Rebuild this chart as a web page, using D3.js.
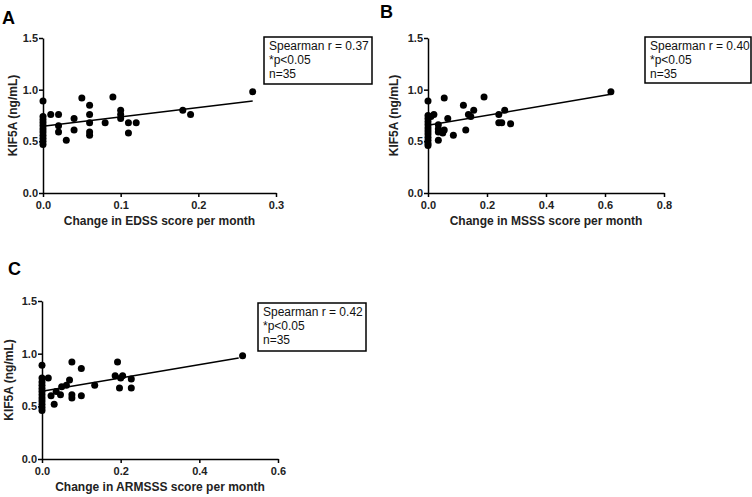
<!DOCTYPE html>
<html>
<head>
<meta charset="utf-8">
<script src="https://cdn.jsdelivr.net/npm/d3@7"></script>
<style>
  body { margin: 0; background: #fff; }
  svg { font-family: Arial, "Liberation Sans", sans-serif; }
  .tick text { font-weight: bold; font-size: 11px; fill: #222; }
  .axis path, .axis line { stroke: #000; stroke-width: 1.5px; }
</style>
</head>
<body>
<div id="chart"></div>
<script>
// panel A: change in EDSS score per month vs KIF5A
var edssX = [0,0,0,0,0,0,0,0,0,0,0, 0.01, 0.02,0.02,0.02, 0.03, 0.04,0.04, 0.05,
  0.06,0.06,0.06,0.06,0.06, 0.08, 0.09, 0.10,0.10,0.10, 0.11,0.11, 0.12, 0.18, 0.19, 0.27];
var edssY = [0.47,0.50,0.53,0.56,0.59,0.62,0.65,0.68,0.71,0.74,0.89, 0.76, 0.76,0.65,0.59, 0.51, 0.72,0.61, 0.92,
  0.85,0.76,0.68,0.59,0.56, 0.68, 0.93, 0.80,0.76,0.72, 0.68,0.58, 0.68, 0.80, 0.76, 0.98];

// panel B: change in MSSS score per month
var msssX = [0,0,0,0,0,0,0,0,0,0,0,0, 0.01, 0.02, 0.035,0.035,0.035,0.035, 0.05, 0.055,0.055, 0.067,
  0.086, 0.12, 0.128, 0.137, 0.145, 0.155, 0.19, 0.24,0.24, 0.25, 0.26, 0.28, 0.62];
var msssY = [0.46,0.48,0.51,0.54,0.57,0.60,0.63,0.66,0.69,0.72,0.75,0.89, 0.74, 0.76, 0.66,0.62,0.59,0.51, 0.58, 0.92,0.61, 0.72,
  0.56, 0.85, 0.61, 0.76, 0.74, 0.80, 0.93, 0.76,0.68, 0.68, 0.80, 0.67, 0.98];

// panel C: change in ARMSSS score per month
var armsssX = [0,0,0,0,0,0,0,0,0,0,0,0, 0.016, 0.023, 0.031, 0.036, 0.047, 0.05, 0.062, 0.07,
  0.076,0.076,0.076, 0.10,0.10, 0.134, 0.186, 0.192, 0.197, 0.20, 0.205, 0.227,0.227, 0.51];
var armsssY = [0.46,0.49,0.52,0.55,0.58,0.61,0.64,0.67,0.70,0.73,0.77,0.89, 0.77, 0.60, 0.52, 0.64, 0.61, 0.685, 0.70, 0.75,
  0.92,0.61,0.58, 0.86,0.60, 0.70, 0.79, 0.92, 0.675, 0.77, 0.79, 0.76,0.675, 0.98];

// fitted lines: [intercept, slope, x end]
var fitA = [0.645, 0.91, 0.27];
var fitB = [0.655, 0.485, 0.62];
var fitC = [0.643, 0.63, 0.50];

var yTicks = [0, 0.5, 1.0, 1.5];
var ticksA = [0, 0.1, 0.2, 0.3];
var ticksB = [0, 0.2, 0.4, 0.6, 0.8];
var ticksC = [0, 0.2, 0.4, 0.6];

var statsA = ["Spearman r = 0.37", "*p<0.05", "n=35"];
var statsB = ["Spearman r = 0.40", "*p<0.05", "n=35"];
var statsC = ["Spearman r = 0.42", "*p<0.05", "n=35"];

var W = 752, H = 497;
var svg = d3.select("#chart").append("svg").attr("width", W).attr("height", H);

var panels = [
  {letter: "A", lx: 2, ly: 24, xs: edssX, ys: edssY, fit: fitA, xticks: ticksA, stats: statsA, yl: 26,
   xlabel: "Change in EDSS score per month", x0: 43, x1: 276, y0: 193, y1: 38, box: [264, 37, 108, 47]},
  {letter: "B", lx: 380, ly: 18, xs: msssX, ys: msssY, fit: fitB, xticks: ticksB, stats: statsB, yl: 30,
   xlabel: "Change in MSSS score per month", x0: 428, x1: 664, y0: 193, y1: 38, box: [645, 37, 106, 46]},
  {letter: "C", lx: 8, ly: 275, xs: armsssX, ys: armsssY, fit: fitC, xticks: ticksC, stats: statsC, yl: 29,
   xlabel: "Change in ARMSSS score per month", x0: 42, x1: 278, y0: 459, y1: 301, box: [258, 303, 108, 48]}
];

panels.forEach(function(p) {
  var xd = p.xticks[p.xticks.length - 1];
  var x = d3.scaleLinear().domain([0, xd]).range([p.x0, p.x1]);
  var y = d3.scaleLinear().domain([0, 1.5]).range([p.y0, p.y1]);
  var g = svg.append("g");

  g.append("text").attr("x", p.lx).attr("y", p.ly)
    .style("font-size", "18px").style("font-weight", "bold").text(p.letter);

  g.append("g").attr("class", "axis")
    .attr("transform", "translate(0," + p.y0 + ")")
    .call(d3.axisBottom(x).tickValues(p.xticks).tickFormat(d3.format(".1f")).tickSize(4).tickSizeOuter(0))
    .selectAll("text").attr("y", 8);

  g.append("g").attr("class", "axis")
    .attr("transform", "translate(" + p.x0 + ",0)")
    .call(d3.axisLeft(y).tickValues(yTicks).tickFormat(d3.format(".1f")).tickSize(4).tickSizeOuter(0))
    .selectAll("text").attr("x", -5);

  g.append("text")
    .attr("x", (p.x0 + p.x1) / 2).attr("y", p.y0 + 32)
    .attr("text-anchor", "middle")
    .style("font-size", "12px").style("font-weight", "bold").style("fill", "#222")
    .text(p.xlabel);

  g.append("text")
    .attr("transform", "translate(" + (p.x0 - p.yl) + "," + ((p.y0 + p.y1) / 2) + ") rotate(-90)")
    .attr("text-anchor", "middle")
    .style("font-size", "12px").style("font-weight", "bold").style("fill", "#222")
    .text("KIF5A (ng/mL)");

  // regression line
  g.append("line")
    .attr("x1", x(0)).attr("y1", y(p.fit[0]))
    .attr("x2", x(p.fit[2])).attr("y2", y(p.fit[0] + p.fit[1] * p.fit[2]))
    .attr("stroke", "#000").attr("stroke-width", 1.5);

  g.selectAll("circle").data(p.xs).enter().append("circle")
    .attr("cx", function(d) { return x(d); })
    .attr("cy", function(d, i) { return y(p.ys[i]); })
    .attr("r", 3.5).attr("fill", "#000");

  var b = p.box;
  g.append("rect").attr("x", b[0]).attr("y", b[1]).attr("width", b[2]).attr("height", b[3])
    .attr("fill", "#fff").attr("stroke", "#000").attr("stroke-width", 1.5);
  g.selectAll(".stat").data(p.stats).enter().append("text")
    .attr("class", "stat")
    .attr("x", b[0] + 5).attr("y", function(d, i) { return b[1] + 13 + i * 14; })
    .style("font-size", "12px").style("fill", "#111")
    .text(function(d) { return d; });
});
</script>
</body>
</html>
